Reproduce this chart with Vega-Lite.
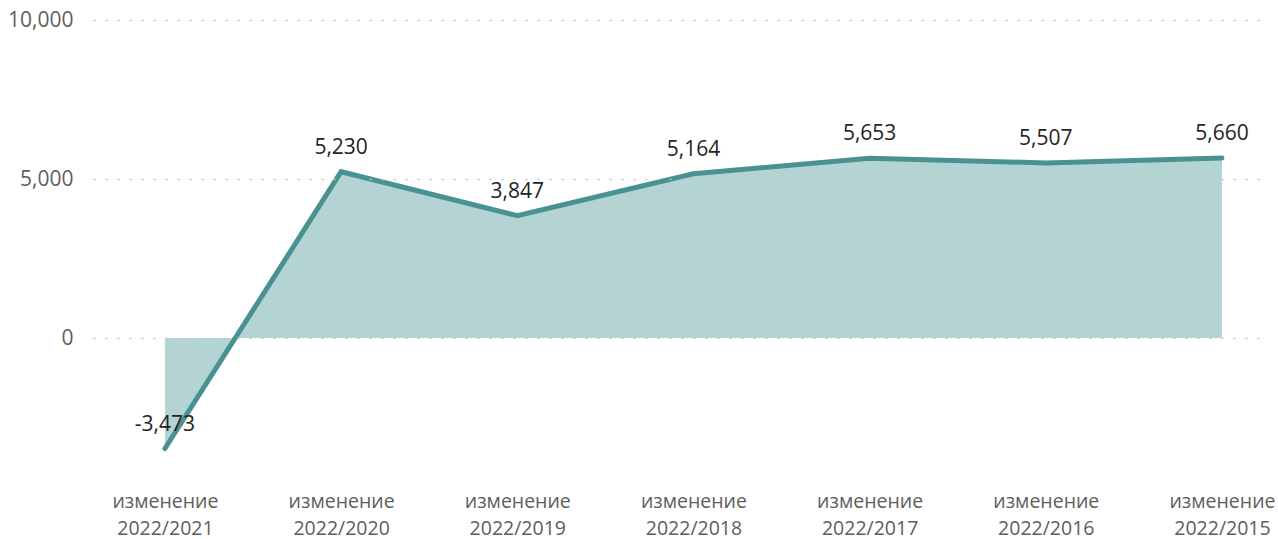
{
  "$schema": "https://vega.github.io/schema/vega-lite/v6.json",
  "autosize": {"type": "none"},
  "width": 1174,
  "height": 458,
  "padding": {"left": 93, "top": 20, "right": 11, "bottom": 61},
  "background": "white",
  "config": {
    "view": {"stroke": null},
    "font": "Open Sans",
    "locale": {
      "number": {
        "decimal": ".",
        "thousands": ",",
        "grouping": [3],
        "currency": ["$", ""],
        "minus": "-"
      }
    }
  },
  "data": {
    "values": [
      {"period": "изменение 2022/2021", "value": -3473},
      {"period": "изменение 2022/2020", "value": 5230},
      {"period": "изменение 2022/2019", "value": 3847},
      {"period": "изменение 2022/2018", "value": 5164},
      {"period": "изменение 2022/2017", "value": 5653},
      {"period": "изменение 2022/2016", "value": 5507},
      {"period": "изменение 2022/2015", "value": 5660}
    ]
  },
  "encoding": {
    "x": {
      "field": "period",
      "type": "ordinal",
      "sort": null,
      "scale": {"type": "point", "padding": 0.332, "align": 0.615},
      "axis": {
        "title": null,
        "domain": false,
        "ticks": false,
        "grid": false,
        "labelAngle": 0,
        "labelExpr": "split(datum.label, ' ')",
        "labelFontSize": 19.5,
        "labelColor": "#605e5c",
        "labelLineHeight": 27,
        "labelPadding": 14,
        "labelFont": "Open Sans"
      }
    },
    "y": {
      "field": "value",
      "type": "quantitative",
      "scale": {"domain": [-4400, 10000], "nice": false, "zero": false},
      "axis": {
        "title": null,
        "values": [0, 5000, 10000],
        "domain": false,
        "ticks": false,
        "grid": true,
        "gridDash": [2, 10],
        "gridColor": "#c4c4c4",
        "gridWidth": 1.5,
        "zindex": 1,
        "labelFontSize": 21,
        "labelColor": "#605e5c",
        "labelPadding": 20,
        "labelFont": "Open Sans",
        "format": ",d"
      }
    }
  },
  "layer": [
    {
      "mark": {"type": "area", "color": "#b4d3d3", "opacity": 1}
    },
    {
      "mark": {"type": "line", "color": "#4a9191", "strokeWidth": 5, "strokeCap": "round", "strokeJoin": "miter"}
    },
    {
      "mark": {"type": "text", "dy": -24, "fontSize": 21, "color": "#252423", "font": "Open Sans"},
      "encoding": {
        "text": {"field": "value", "type": "quantitative", "format": ",d"}
      }
    }
  ]
}
